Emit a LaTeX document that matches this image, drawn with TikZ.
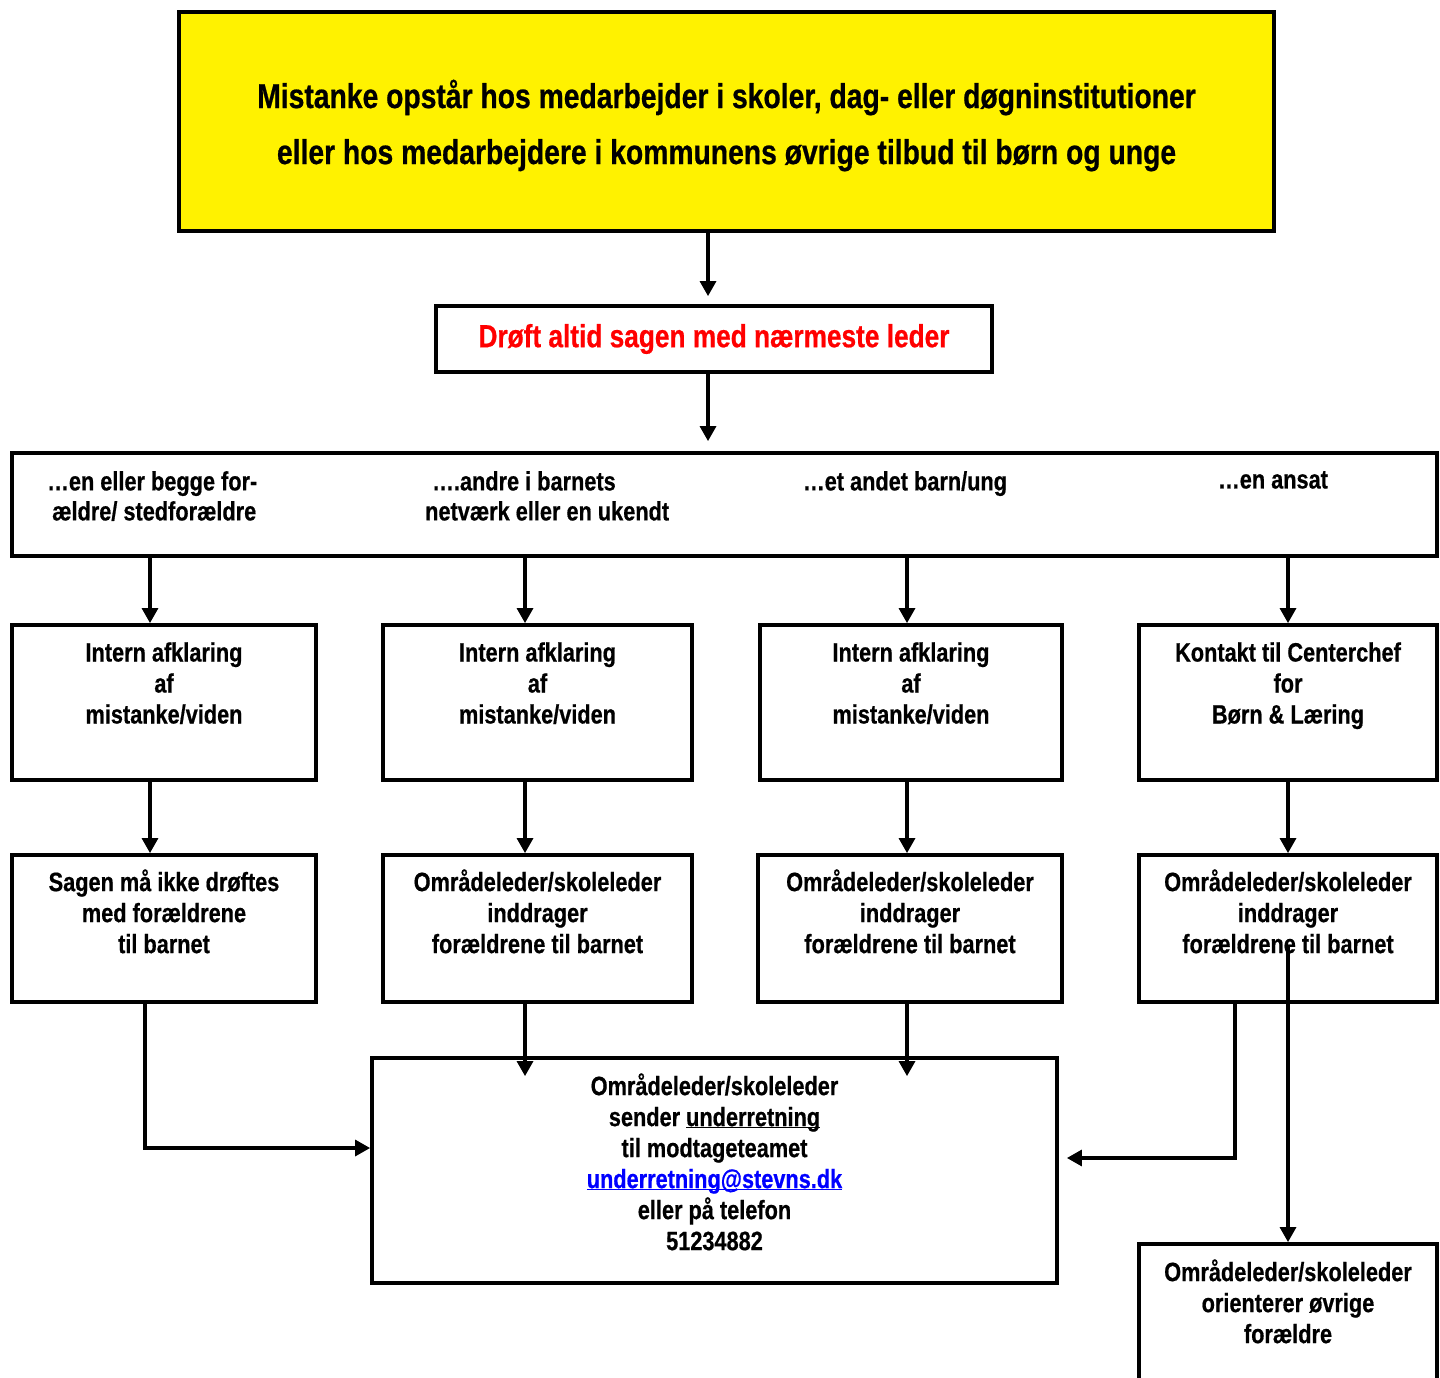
\documentclass[tikz,border=0pt]{standalone}
\usepackage{fontspec}
\setmainfont{Liberation Sans}[FakeStretch=0.82,BoldFeatures={FakeBold=0.6}]
\usetikzlibrary{arrows.meta,positioning}
\newcommand\ulsmash[1]{\underline{\smash{#1}}}
\begin{document}
\begin{tikzpicture}[x=1pt,y=-1pt,line join=miter,
	box/.style={draw,line width=3.8pt,inner sep=0pt},
	txt/.style={align=center,inner sep=0pt,font=\bfseries\fontsize{26.5}{31}\selectfont},
	arr/.style={line width=3.2pt,-{Triangle[length=15pt,width=16pt]}}]
	\useasboundingbox (0,0) rectangle (1440,1378);
	\node[box,fill=yellow,minimum width=1095pt,minimum height=219pt] (top) at (726.5,121.5) {};
	\node[txt,font=\bfseries\fontsize{34.5}{56}\selectfont] (toptxt) at ([yshift=-4pt]top.center) {Mistanke opstår hos medarbejder i skoler, dag- eller døgninstitutioner\\eller hos medarbejdere i kommunens øvrige tilbud til børn og unge};
	\node[box,minimum width=556pt,minimum height=66pt,text=red,font=\bfseries\fontsize{32}{36}\selectfont] (leder) at (714,339) {Drøft altid sagen med nærmeste leder};
	\node[box,minimum width=1425pt,minimum height=103pt] (hvem) at (724.5,504.5) {};
	\node[txt,align=left,anchor=north west,font=\bfseries\fontsize{26.5}{30}\selectfont] (h1) at (47,471) {…en eller begge for-\\\hspace*{5pt}ældre/ stedforældre};
	\node[txt,align=left,anchor=north west,font=\bfseries\fontsize{26.5}{30}\selectfont] (h2) at (425,471) {\hspace*{7pt}….andre i barnets\\netværk eller en ukendt};
	\node[txt,anchor=north] (h3) at (905,471) {…et andet barn/ung};
	\node[txt,anchor=north] (h4) at (1273,471) {…en ansat};
	\foreach \n/\x/\w in {1/164/304,2/537.5/309,3/911/302,4/1288/298}
	\node[box,minimum width=\w pt,minimum height=155pt] (b\n) at (\x,702.5) {};
	\foreach \n/\x/\w in {1/164/304,2/537.5/309,3/910/304,4/1288/298}
	\node[box,minimum width=\w pt,minimum height=147pt] (c\n) at (\x,928.5) {};
	\node[txt,below=19pt of b1.north] (t1) {Intern afklaring\\af\\mistanke/viden};
	\node[txt,below=19pt of b2.north] (t2) {Intern afklaring\\af\\mistanke/viden};
	\node[txt,below=19pt of b3.north] (t3) {Intern afklaring\\af\\mistanke/viden};
	\node[txt,below=19pt of b4.north] (t4) {Kontakt til Centerchef\\for\\Børn \& Læring};
	\node[txt,below=16pt of c1.north] (s1) {Sagen må ikke drøftes\\med forældrene\\til barnet};
	\node[txt,below=16pt of c2.north] (s2) {Områdeleder/skoleleder\\inddrager\\forældrene til barnet};
	\node[txt,below=16pt of c3.north] (s3) {Områdeleder/skoleleder\\inddrager\\forældrene til barnet};
	\node[txt,below=16pt of c4.north] (s4) {Områdeleder/skoleleder\\inddrager\\forældrene til barnet};
	\node[box,minimum width=685pt,minimum height=225pt] (under) at (714.5,1170.5) {};
	\node[txt,below=17pt of under.north] (utxt) {Områdeleder/skoleleder\\sender \ulsmash{underretning}\\til modtageteamet\\\textcolor{blue}{\ulsmash{underretning@stevns.dk}}\\eller på telefon\\51234882};
	\node[box,minimum width=298pt,minimum height=170pt] (orient) at (1288,1329) {};
	\node[txt,below=17pt of orient.north] (otxt) {Områdeleder/skoleleder\\orienterer øvrige\\forældre};
	\draw[arr,shorten >=8pt] ([xshift=-18.5pt]top.south) -- ([xshift=-6pt]leder.north);
	\draw[arr,shorten >=10pt] ([xshift=-6pt]leder.south) -- ([xshift=-6pt]leder.south |- hvem.north);
	\foreach \n/\s in {1/-14,2/-12.5,3/-4,4/0}{
		\draw[arr] ([xshift=\s pt]b\n.north |- hvem.south) -- ([xshift=\s pt]b\n.north);
		\draw[arr] ([xshift=\s pt]b\n.south) -- ([xshift=\s pt]b\n.south |- c\n.north);
	}
	\draw[arr,shorten >=-20pt] ([xshift=-12.5pt]c2.south) -- ([xshift=-12.5pt]c2.south |- under.north);
	\draw[arr,shorten >=-20pt] ([xshift=-3pt]c3.south) -- ([xshift=-3pt]c3.south |- under.north);
	\draw[arr] ([xshift=-19pt]c1.south) |- ([yshift=22.5pt]under.west);
	\draw[arr,shorten >=8pt] ([xshift=-53pt]c4.south) |- ([yshift=12.5pt]under.east);
	\draw[arr] ([yshift=-16.5pt]c4.center) -- (orient.north);
\end{tikzpicture}
\end{document}
